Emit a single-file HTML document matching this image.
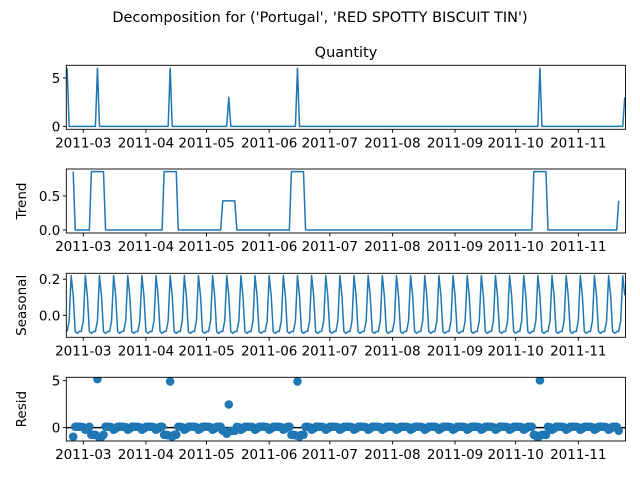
<!DOCTYPE html>
<html><head><meta charset="utf-8"><style>
html,body{margin:0;padding:0;background:#fff;}
svg text{font-family:"DejaVu Sans","Liberation Sans",sans-serif;fill:#000;}
</style></head><body>
<svg id="chart" width="640" height="480" xmlns="http://www.w3.org/2000/svg">
<text x="320" y="22" text-anchor="middle" font-size="14.5">Decomposition for ('Portugal', 'RED SPOTTY BISCUIT TIN')</text>
<text x="346" y="57" text-anchor="middle" font-size="14.5">Quantity</text>
<g id="layer"></g>
</svg>
<script>
// ---- data ----
const startDate = "2011-02-21";
const endDate = "2011-11-24";
const spikeDates = ["2011-02-21","2011-03-08","2011-04-13","2011-05-12","2011-06-15","2011-10-13","2011-11-24"];
const spikeValues = [6, 6, 6, 3, 6, 6, 3];
const seasonalPattern = [-0.09, -0.03, 0.22, 0.11, -0.09, -0.10, -0.09];
const monthTicks = ["2011-03","2011-04","2011-05","2011-06","2011-07","2011-08","2011-09","2011-10","2011-11"];
const qTicks = [0, 5], trendTicks = [0.0, 0.5], seasTicks = [0.0, 0.2], residTicks = [0, 5];
const trendTickLabels = ["0.0","0.5"], seasTickLabels = ["0.0","0.2"];

const NS = "http://www.w3.org/2000/svg";
const layer = document.getElementById('layer');
const DAY = 86400000;
const d0 = Date.parse(startDate), dEnd = Date.parse(endDate);
const n = Math.round((dEnd - d0) / DAY) + 1;
const dates = [], qty = [];
for (let i = 0; i < n; i++) { dates.push(d0 + i * DAY); qty.push(0); }
spikeDates.forEach((s, k) => { const i = Math.round((Date.parse(s) - d0) / DAY); if (i >= 0 && i < n) qty[i] = spikeValues[k]; });
const trend = qty.map((v, i) => { if (i < 3 || i > n - 4) return null; let s = 0; for (let j = i - 3; j <= i + 3; j++) s += qty[j]; return s / 7; });
const seas = qty.map((v, i) => seasonalPattern[i % 7]);
const resid = qty.map((v, i) => trend[i] === null ? null : v - trend[i] - seas[i]);

const X0 = 66.3, X1 = 625.5;
const mar1 = Date.parse("2011-03-01");
const x = t => 83.3 + (t - mar1) / DAY * 2.0204;
const panels = [
  {name:'quantity', top:65.3, bot:129.3, lo:-0.3, hi:6.3, ticks:qTicks, labels:qTicks.map(String), data:qty, type:'line'},
  {name:'trend', top:169, bot:233, lo:-0.044, hi:0.896, ticks:trendTicks, labels:trendTickLabels, data:trend, type:'line', ylabel:'Trend'},
  {name:'seasonal', top:273.3, bot:337.3, lo:-0.122, hi:0.233, ticks:seasTicks, labels:seasTickLabels, data:seas, type:'line', ylabel:'Seasonal'},
  {name:'resid', top:377.3, bot:441, lo:-1.43, hi:5.36, ticks:residTicks, labels:residTicks.map(String), data:resid, type:'scatter', ylabel:'Resid'}
];
function mk(tag, attrs, parent) { const e = document.createElementNS(NS, tag); for (const k in attrs) e.setAttribute(k, attrs[k]); (parent||layer).appendChild(e); return e; }

panels.forEach(p => {
  const y = v => p.bot - (v - p.lo) / (p.hi - p.lo) * (p.bot - p.top);
  const g = mk('g', {});
  
  
  const cid = 'clip-' + p.name;
  const cp = mk('clipPath', {id: cid}, g);
  mk('rect', {x: X0, y: p.top, width: X1 - X0, height: p.bot - p.top}, cp);
  if (p.type === 'line') {
    let d = '', pen = false;
    p.data.forEach((v, i) => { if (v === null) { pen = false; return; } d += (pen ? 'L' : 'M') + x(dates[i]).toFixed(2) + ',' + y(v).toFixed(2); pen = true; });
    const path = mk('path', {d: d, fill: 'none', stroke: '#1f77b4', 'stroke-width': 1.5, 'stroke-linejoin': 'round', 'clip-path': 'url(#' + cid + ')'}, g);
    
    
  } else {
    const zl = mk('line', {x1: X0, x2: X1, y1: y(0), y2: y(0), stroke: '#000', 'stroke-width': 1.5}, g);
    
    
    p.data.forEach((v, i) => {
      if (v === null) return;
      const c = mk('circle', {cx: x(dates[i]), cy: y(v), r: 4.3, fill: '#1f77b4', 'clip-path': 'url(#' + cid + ')'}, g);
      
      
    });
  }
  const fr = mk('rect', {x: X0, y: p.top, width: X1 - X0, height: p.bot - p.top, fill: 'none', stroke: '#000', 'stroke-width': 0.9}, g);
  
  
  p.ticks.forEach((t, k) => {
    const yy = y(t);
    mk('line', {x1: X0 - 3.5, x2: X0, y1: yy, y2: yy, stroke: '#000', 'stroke-width': 0.9}, g);
    const tl = mk('text', {x: X0 - 6, y: yy + 5, 'text-anchor': 'end', 'font-size': 13.5}, g);
    tl.textContent = p.labels[k];
    
    
  });
  monthTicks.forEach(m => {
    const xx = x(Date.parse(m + "-01"));
    mk('line', {x1: xx, x2: xx, y1: p.bot, y2: p.bot + 3.5, stroke: '#000', 'stroke-width': 0.9}, g);
    const tl = mk('text', {x: xx, y: p.bot + 18, 'text-anchor': 'middle', 'font-size': 13.5}, g);
    tl.textContent = m;
    
    
  });
  if (p.ylabel) {
    const cy = (p.top + p.bot) / 2;
    const yl = mk('text', {x: 26, y: cy, 'text-anchor': 'middle', 'font-size': 13.5, transform: 'rotate(-90 26 ' + cy + ')'}, g);
    yl.textContent = p.ylabel;
    
    
  }
});
</script>
</body></html>
